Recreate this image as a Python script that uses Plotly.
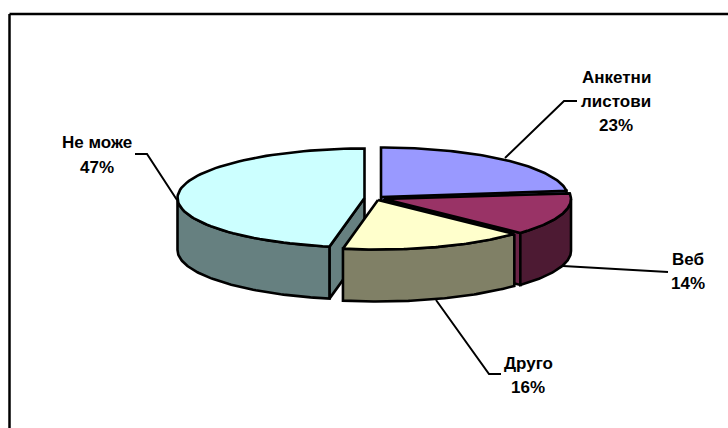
import math
import plotly.graph_objects as go

categories = ["Анкетни листови", "Веб", "Друго", "Не може"]
values = [23, 14, 16, 47]
label_lines = [["Анкетни", "листови"], ["Веб"], ["Друго"], ["Не може"]]

top_colors = ["#9999FF", "#993366", "#FFFFCC", "#CCFFFF"]
side_colors = ["#4D4D80", "#4D1A33", "#808066", "#668080"]
cut_colors = ["#6B6BB3", "#6B2447", "#B3B38F", "#6F8C8C"]
centers = [(381, 197), (384, 199), (378, 200), (364.5, 198)]
label_x = [616, 688, 528, 97]
label_y = [[77, 101.5, 125.5], [259, 283], [363, 387], [142, 167]]
leaders = [
    ([505, 564, 577], [158, 101, 101]),
    ([563, 668], [266, 272]),
    ([436, 489, 501], [300, 374, 374]),
    ([135, 147, 177], [154, 154, 200]),
]
draw_order = [0, 1, 3, 2]
RX, RY, DEPTH = 187, 49.5, 52
LW = 2.6

total = sum(values)
spans = []
acc = 0
for v in values:
    spans.append((acc / total * 360, (acc + v) / total * 360))
    acc += v


def pt(c, deg, dz=0):
    r = math.radians(deg)
    return c[0] + RX * math.sin(r), c[1] - RY * math.cos(r) + dz


def arc(c, a, b, dz=0, n=80):
    return [pt(c, a + (b - a) * i / n, dz) for i in range(n + 1)]


fig = go.Figure()


def poly(points, fill):
    fig.add_trace(go.Scatter(
        x=[p[0] for p in points] + [points[0][0]],
        y=[p[1] for p in points] + [points[0][1]],
        mode="lines", fill="toself", fillcolor=fill,
        line=dict(color="#000000", width=LW),
        hoverinfo="skip", showlegend=False,
    ))


for xs, ys in leaders:
    fig.add_trace(go.Scatter(x=xs, y=ys, mode="lines",
                             line=dict(color="#000000", width=2),
                             hoverinfo="skip", showlegend=False))

for i in draw_order:
    a, b = spans[i]
    c = centers[i]
    # cut faces that look towards the viewer
    for edge in ([b] if b < 180 else []) + ([a] if a > 180 else []):
        e = pt(c, edge)
        poly([c, e, (e[0], e[1] + DEPTH), (c[0], c[1] + DEPTH)], cut_colors[i] if i != 3 else side_colors[i])
    # visible outer wall (90 to 270 degrees)
    lo, hi = max(a, 90), min(b, 270)
    if lo < hi:
        poly(arc(c, lo, hi) + arc(c, hi, lo, DEPTH), side_colors[i])
    # top face
    poly([c] + arc(c, a, b), top_colors[i])

annotations = []
for i, lines in enumerate(label_lines):
    texts = lines + [f"{round(values[i] / total * 100)}%"]
    for t, y in zip(texts, label_y[i]):
        annotations.append(dict(
            x=label_x[i], y=y, text=f"<b>{t}</b>", showarrow=False,
            xanchor="center", yanchor="middle",
            font=dict(family="Liberation Sans", size=17, color="#000000"),
        ))

fig.update_layout(
    width=728, height=428, margin=dict(l=0, r=0, t=0, b=0),
    paper_bgcolor="#FFFFFF", plot_bgcolor="#FFFFFF", showlegend=False,
    xaxis=dict(range=[0, 728], visible=False, fixedrange=True),
    yaxis=dict(range=[428, 0], visible=False, fixedrange=True),
    annotations=annotations,
    shapes=[
        dict(type="line", xref="x", yref="y", x0=9.5, y0=428, x1=9.5, y1=14,
             line=dict(color="#000000", width=2.5)),
        dict(type="line", xref="x", yref="y", x0=9.5, y0=14, x1=728, y1=14,
             line=dict(color="#000000", width=2.5)),
    ],
)
fig.write_html("out.html", config={"displayModeBar": False},
               post_script="document.body.style.margin='0';document.documentElement.style.overflow='hidden';")
